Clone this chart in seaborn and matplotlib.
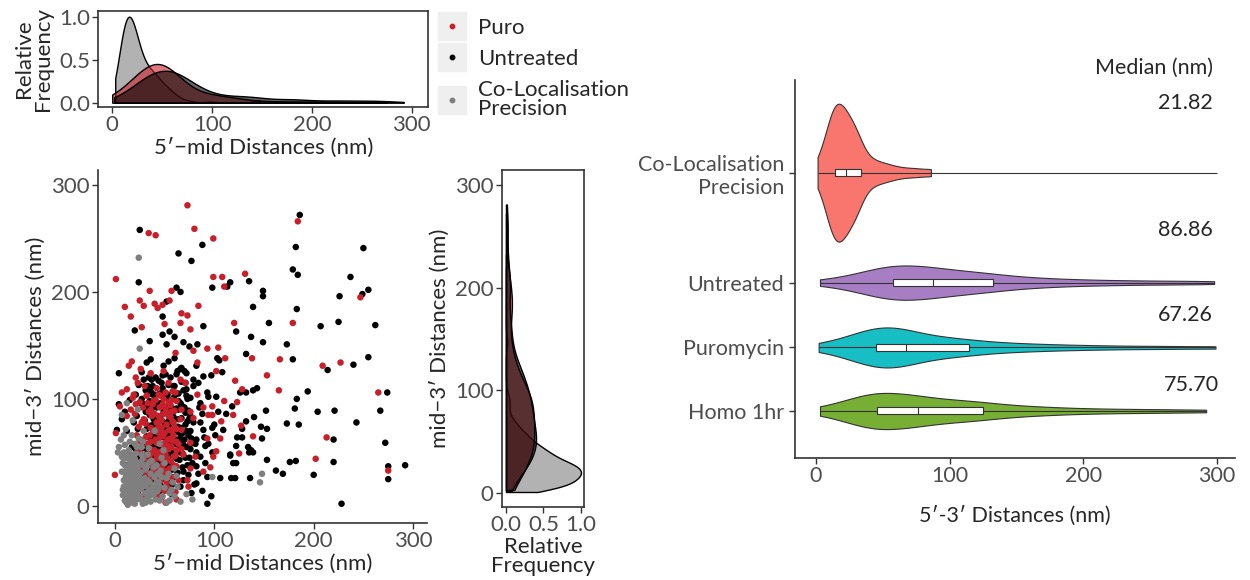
import numpy as np
import pandas as pd
import matplotlib
matplotlib.use("Agg")
import matplotlib.pyplot as plt
from matplotlib.lines import Line2D
from matplotlib.legend_handler import HandlerTuple
import seaborn as sns

# ---- scatter data: (5'-mid, mid-3') distances in nm ----
untreated_pts = [
    (25, 258), (88, 244), (64, 236), (77, 229), (24, 209), (98, 204), (62, 204), (66, 200), (52, 191), (48, 177),
    (89, 168), (20, 164), (55, 163), (48, 160), (35, 154), (60, 158), (52, 151), (69, 153), (83, 151), (75, 149),
    (186, 272), (182, 242), (250, 241), (179, 221), (184, 216), (237, 214), (135, 210), (116, 209), (113, 205),
    (149, 201), (149, 196), (226, 196), (249, 198), (255, 202), (139, 186), (183, 184), (155, 171), (207, 168),
    (225, 172), (262, 169), (122, 163), (137, 158), (149, 153), (173, 151),
    (132, 142), (103, 138), (105, 136), (179, 137), (255, 139), (240, 132), (214, 127), (108, 125), (97, 122),
    (126, 106), (132, 106), (139, 108), (143, 110), (194, 107), (102, 102), (183, 100), (181, 91), (274, 106),
    (267, 89), (221, 89), (204, 88), (152, 89), (104, 88), (112, 86), (118, 93), (100, 76), (140, 83), (132, 79),
    (109, 71), (128, 72), (147, 74), (153, 72), (173, 77), (185, 76), (243, 78), (123, 64), (128, 64), (148, 63),
    (101, 66), (220, 62), (272, 59), (122, 56), (134, 55), (137, 52), (139, 50), (135, 50), (116, 48), (116, 47),
    (119, 40), (122, 40), (153, 43), (176, 41), (182, 42), (220, 41), (292, 38), (275, 37), (275, 25), (162, 33),
    (169, 30), (200, 29), (106, 26), (117, 26), (121, 26), (136, 26), (97, 9), (228, 2),
    (4, 124), (32, 134), (36, 137), (54, 135), (49, 131), (67, 129), (72, 124), (82, 131), (89, 121), (62, 123),
    (44, 117), (29, 118), (24, 113), (79, 118), (84, 115), (59, 112), (72, 109), (36, 107), (49, 106), (93, 106),
    (4, 95), (15, 99), (29, 95), (52, 101), (66, 96), (76, 101), (86, 96), (7, 81), (22, 84), (39, 81), (59, 82),
    (71, 76), (79, 78), (89, 71), (98, 73), (2, 71), (12, 70), (32, 65), (52, 68), (67, 62), (82, 62), (91, 56),
    (66, 50), (76, 53), (86, 46), (98, 50), (41, 43), (54, 37), (69, 32), (82, 37), (93, 27), (66, 18), (82, 21),
    (93, 2), (77, 12), (54, 18), (46, 27), (59, 60), (72, 70), (47, 95), (64, 90), (54, 76), (37, 91), (19, 78),
    (10, 88), (38, 62), (44, 55), (51, 47), (57, 39), (63, 31), (69, 24), (75, 45), (81, 58), (47, 70), (53, 78),
    (59, 88), (66, 67), (72, 55), (78, 40), (84, 30), (90, 64), (42, 92), (48, 110), (56, 120), (64, 105),
    (70, 92), (76, 84), (86, 78), (94, 58), (36, 75), (31, 88), (40, 104), (58, 50), (62, 44), (68, 36), (74, 29),
    (80, 20), (88, 14), (45, 35), (51, 28), (57, 60), (63, 74), (49, 64), (55, 95), (61, 58), (67, 82), (73, 100),
    (79, 112), (85, 92), (91, 40), (39, 50), (33, 112), (27, 100), (41, 120), (60, 138), (66, 128), (46, 84),
    (52, 40), (58, 70), (64, 52), (70, 62), (76, 70), (82, 50), (88, 86), (94, 102),
    (30, 40), (33, 56), (35, 98), (37, 118), (39, 66), (41, 31), (43, 79), (45, 105), (47, 47), (49, 88),
    (51, 123), (53, 59), (55, 33), (57, 77), (59, 101), (61, 69), (63, 126), (65, 43), (67, 94), (69, 57),
    (71, 115), (73, 38), (75, 82), (77, 63), (26, 96), (29, 55), (23, 72), (31, 108), (36, 50), (40, 84),
    (44, 65), (48, 122), (52, 89), (56, 54), (60, 112), (64, 81), (68, 49), (72, 103), (76, 58), (34, 93),
    (28, 44), (32, 72), (38, 104), (42, 57), (46, 96), (50, 74), (54, 113), (58, 46), (62, 91), (66, 73),
    (70, 126), (74, 66), (33, 52), (21, 104), (34, 120), (44, 41), (54, 66), (64, 98), (74, 89), (39, 76),
    (49, 55), (59, 83), (69, 108), (25, 62), (47, 115), (57, 92), (67, 116), (40, 58), (53, 104), (63, 62),
    (73, 79), (30, 80), (41, 95), (51, 66), (61, 37), (71, 87), (27, 125), (45, 57), (55, 81), (65, 56),
    (38, 112), (35, 85), (43, 48), (61, 104), (71, 45), (35, 64), (37, 33), (48, 79), (58, 34), (68, 68),
    (11, 30), (14, 18), (16, 42), (19, 26), (21, 53), (23, 12), (25, 36), (27, 47), (29, 21), (31, 30),
    (33, 15), (35, 44), (37, 24), (39, 55), (41, 36), (43, 20), (45, 49), (47, 13), (49, 31), (51, 42),
    (53, 22), (55, 50), (57, 11), (59, 27), (13, 50), (18, 34), (22, 22), (26, 28), (28, 54), (30, 16),
    (32, 38), (34, 25), (36, 50), (38, 14), (40, 45), (42, 28), (44, 38), (46, 19), (48, 52), (50, 25),
    (52, 34), (54, 15), (56, 40), (58, 20), (24, 46), (20, 10), (15, 25), (60, 48), (12, 38), (17, 55),
]

puro_pts = [
    (73, 281), (34, 255), (41, 253), (80, 259), (99, 250), (1, 212), (99, 214), (35, 201), (57, 201), (25, 192),
    (10, 186), (29, 187), (40, 189), (43, 185), (48, 188), (55, 192), (84, 187), (16, 177), (67, 180), (73, 178),
    (50, 170), (66, 171), (27, 167), (76, 165), (93, 147),
    (184, 266), (108, 214), (131, 217), (110, 205), (247, 195), (120, 171), (179, 171), (104, 148),
    (138, 138), (111, 138), (166, 137), (227, 134), (209, 131), (102, 126), (153, 122), (121, 117), (128, 109),
    (165, 108), (110, 98), (123, 97), (265, 106), (98, 93), (98, 85), (119, 85), (107, 79), (127, 75), (139, 65),
    (106, 63), (213, 64), (102, 51), (99, 46), (125, 49), (96, 36), (202, 44), (275, 33),
    (17, 135), (14, 131), (26, 128), (36, 124), (49, 126), (61, 143), (79, 145), (83, 134), (54, 115), (66, 118),
    (7, 106), (12, 109), (19, 104), (32, 103), (44, 104), (61, 106), (71, 115), (83, 104), (5, 93), (21, 95),
    (36, 90), (49, 93), (62, 98), (76, 88), (89, 92), (12, 84), (29, 81), (44, 84), (54, 84), (66, 81), (79, 82),
    (94, 85), (36, 73), (47, 73), (57, 70), (67, 71), (93, 63), (41, 62), (51, 59), (62, 60), (76, 59), (44, 50),
    (54, 53), (59, 46), (69, 48), (81, 46), (37, 38), (49, 40), (62, 37), (76, 35), (89, 32), (44, 27), (57, 27),
    (73, 24), (47, 16), (61, 13), (74, 18), (51, 3), (62, 6), (0, 29), (1, 68), (52, 87), (59, 78), (42, 78),
    (67, 90), (51, 106), (57, 99), (39, 98), (46, 65), (67, 53), (56, 42), (64, 24), (52, 32),
    (30, 45), (33, 58), (35, 66), (37, 84), (38, 95), (40, 52), (41, 70), (42, 110), (43, 36), (44, 60),
    (45, 92), (46, 44), (47, 80), (48, 57), (49, 100), (50, 68), (51, 48), (52, 76), (53, 62), (54, 97),
    (55, 35), (56, 83), (57, 55), (58, 107), (59, 66), (60, 89), (61, 47), (62, 72), (23, 115), (64, 58),
    (18, 101), (26, 60), (24, 74), (20, 86), (28, 92), (22, 66), (31, 77), (34, 88), (36, 53), (39, 41),
    (41, 99), (43, 69), (45, 79), (47, 51), (49, 86), (51, 91), (53, 43), (55, 71), (57, 88), (59, 38),
    (21, 120), (33, 96), (27, 78), (31, 64), (25, 97), (32, 103), (35, 47), (38, 71), (42, 59), (46, 103),
    (50, 33), (54, 56), (58, 79), (62, 52), (30, 112), (44, 74), (48, 95), (52, 53), (56, 63), (60, 74),
    (40, 86), (36, 60), (46, 70), (50, 58), (54, 86), (58, 61), (42, 47), (48, 65), (56, 94), (16, 90),
    (12, 22), (15, 35), (18, 14), (20, 44), (22, 28), (24, 10), (26, 38), (28, 20), (30, 48), (32, 31),
    (34, 12), (36, 26), (38, 42), (40, 17), (42, 33), (44, 9), (46, 24), (48, 38), (50, 14), (52, 22),
    (14, 46), (17, 30), (21, 18), (25, 50), (27, 33), (29, 9), (33, 40), (35, 19), (37, 50), (39, 29),
    (41, 11), (43, 45), (45, 30), (47, 8), (49, 28), (53, 17), (16, 12), (23, 41), (31, 24), (38, 33),
]

coloc_pts = [
    (10, 5), (11, 13), (12, 19), (11, 27), (12, 35), (13, 8), (8, 15), (9, 24), (10, 31), (8, 40), (11, 4),
    (12, 11), (13, 18), (12, 26), (14, 33), (13, 45), (15, 7), (16, 14), (15, 21), (17, 28), (16, 37), (18, 3),
    (18, 10), (19, 17), (20, 24), (19, 30), (21, 41), (22, 6), (22, 13), (23, 20), (24, 27), (23, 35), (25, 9),
    (26, 16), (27, 23), (26, 31), (28, 44), (29, 5), (30, 12), (31, 19), (30, 26), (32, 38), (33, 8), (34, 15),
    (35, 22), (36, 30), (38, 11), (39, 18), (40, 27), (41, 6), (43, 14), (44, 22), (46, 33), (48, 9), (50, 17),
    (52, 26), (14, 52), (20, 58), (9, 50), (27, 55), (33, 48), (6, 62), (17, 66), (9, 44), (9, 18), (8, 10),
    (11, 72), (24, 63), (37, 42), (42, 38), (45, 5), (55, 12), (58, 22), (36, 4), (20, 2), (13, 1), (28, 2),
    (16, 44), (21, 49), (10, 57), (18, 80), (12, 96), (23, 90), (29, 70), (4, 55),
    (17, 19), (19, 22), (21, 25), (18, 27), (15, 24), (22, 18), (20, 20), (16, 29), (24, 22), (23, 15), (14, 16),
    (12, 21), (25, 26), (19, 12), (21, 32), (14, 9), (16, 23), (18, 34), (13, 28), (17, 6), (19, 38), (15, 41),
    (20, 15), (18, 21), (16, 18), (14, 26), (21, 11), (17, 32), (19, 8), (22, 29), (13, 36), (20, 44), (15, 12),
    (18, 48), (23, 39),
    (3, 50), (7, 46), (10, 38), (27, 48), (31, 34), (35, 41), (39, 36), (43, 30), (37, 16), (33, 24),
    (29, 38), (26, 6), (31, 3), (40, 12), (45, 18), (9, 66), (15, 60), (22, 55), (28, 60), (34, 54),
    (10, 24), (7, 32), (11, 17), (25, 40), (28, 18), (36, 10), (42, 22), (47, 27), (12, 48), (12, 3),
    (55, 5), (60, 9), (66, 4), (72, 11), (78, 6), (50, 40), (54, 30), (47, 45), (57, 15), (52, 3), (62, 28),
    (49, 52), (24, 232), (25, 147), (148, 30), (146, 22), (98, 27), (60, 35), (63, 18), (40, 70), (7, 85), (45, 58),
]

# ---- violin data: 5'-3' distances (nm) ----
coloc_53 = [1.2, 3.5, 5.4, 6.8, 8.1, 9.0, 9.9, 10.6, 11.3, 11.9, 12.4, 12.8, 13.1, 13.4, 13.7,
            14.2, 14.8, 15.3, 15.9, 16.4, 17.0, 17.5, 18.0, 18.6, 19.1, 19.7, 20.3, 20.8, 21.4, 21.8,
            22.3, 23.0, 23.7, 24.4, 25.1, 25.9, 26.6, 27.4, 28.2, 29.0, 29.8, 30.5, 31.2, 31.8, 32.4,
            34.0, 36.1, 38.5, 41.2, 44.0, 47.3, 51.0, 55.2, 60.5, 67.8, 76.0, 86.0]
coloc_53_outliers = [112.0, 140.0, 218.0, 300.0]
untreated_53 = [3, 14, 24, 31, 37, 41, 44, 47, 49, 51, 53, 55,
                57, 59, 61, 63, 66, 68, 71, 74, 77, 79, 82, 84, 87,
                88, 91, 95, 99, 102, 106, 110, 114, 118, 122, 126, 129,
                134, 140, 147, 155, 163, 172, 183, 196, 211, 228, 249, 272, 298]
puro_53 = [2, 9, 16, 22, 27, 31, 34, 37, 39, 40, 42, 43,
           45, 46, 48, 50, 52, 54, 56, 58, 60, 62, 64, 66, 67,
           68, 71, 74, 78, 82, 86, 90, 94, 98, 102, 106, 111,
           116, 122, 129, 137, 146, 156, 167, 180, 196, 214, 238, 265, 299]
homo_53 = [3, 11, 18, 24, 29, 33, 36, 38, 40, 41, 42, 43,
           45, 47, 49, 52, 55, 58, 61, 64, 67, 69, 71, 73, 75,
           77, 81, 85, 89, 93, 97, 101, 105, 109, 113, 117, 121,
           126, 131, 138, 145, 153, 162, 172, 184, 199, 217, 238, 262, 292]

violin_names = ["Co-Localisation\nPrecision", "Untreated", "Puromycin", "Homo 1hr"]
medians = [21.82, 86.86, 67.26, 75.70]

# %%
sns.set_style("white")
plt.rcParams["font.family"] = ["Lato", "DejaVu Sans"]

RED, BLACK, GREY = "#C8202A", "#000000", "#7F7F7F"
groups = ["Untreated", "Puro", "Co-Localisation Precision"]
pal = {"Untreated": BLACK, "Puro": RED, "Co-Localisation Precision": GREY}

frames = []
for g, pts in zip(groups, [untreated_pts, puro_pts, coloc_pts]):
    a = np.array(pts, dtype=float)
    frames.append(pd.DataFrame({"x": a[:, 0], "y": a[:, 1], "group": g}))
df = pd.concat(frames, ignore_index=True)

fig = plt.figure(figsize=(12.5, 5.8), dpi=100)
ax_top = fig.add_axes([0.0786, 0.816, 0.264, 0.165])
ax_sc = fig.add_axes([0.0784, 0.0983, 0.2632, 0.6086])
ax_rt = fig.add_axes([0.4016, 0.1259, 0.0656, 0.581])
ax_vn = fig.add_axes([0.636, 0.2103, 0.352, 0.652])

EDGE = "#333333"
TICK = "#4D4D4D"
FS = 16
FSV = 15.5


def style_axes(ax, box=True, fs=FS):
    for s in ["top", "right"]:
        ax.spines[s].set_visible(box)
    for s in ax.spines.values():
        s.set_color(EDGE)
        s.set_linewidth(1.2)
    ax.tick_params(bottom=True, left=True, direction="out", length=4, width=1,
                   color=EDGE, labelcolor=TICK, labelsize=fs, pad=2)


# ---- scatter ----
sns.scatterplot(data=df, x="x", y="y", hue="group", palette=pal, s=22,
                linewidth=0, legend=False, ax=ax_sc)
ax_sc.set_xlim(-17, 314)
ax_sc.set_ylim(-16, 314)
ax_sc.set_xticks([0, 100, 200, 300])
ax_sc.set_yticks([0, 100, 200, 300])
ax_sc.set_xlabel("5\u2032\u2212mid Distances (nm)", fontsize=FS, labelpad=2)
ax_sc.set_ylabel("mid\u22123\u2032 Distances (nm)", fontsize=FS)
style_axes(ax_sc, box=False)

# ---- marginal densities ----
draw_order = ["Co-Localisation Precision", "Puro", "Untreated"]
bw_x = {"Co-Localisation Precision": 0.8, "Puro": 1.2, "Untreated": 0.9}
bw_y = {"Co-Localisation Precision": 0.6, "Puro": 0.9, "Untreated": 0.9}
for g in draw_order:
    sub = df[df.group == g]
    sns.kdeplot(x=sub.x, ax=ax_top, fill=True, color=pal[g], alpha=0.6,
                edgecolor="black", linewidth=1, cut=0, bw_adjust=bw_x[g])
    sns.kdeplot(y=sub.y, ax=ax_rt, fill=True, color=pal[g], alpha=0.6,
                edgecolor="black", linewidth=1, cut=0, bw_adjust=bw_y[g])

m_top = ax_top.collections[0].get_paths()[0].vertices[:, 1].max()
ax_top.set_yticks([0, m_top / 2, m_top], ["0.0", "0.5", "1.0"])
ax_top.set_ylim(-0.047 * m_top, 1.066 * m_top)
ax_top.set_xlim(-14, 316.5)
ax_top.set_xticks([0, 100, 200, 300])
ax_top.set_xlabel("5\u2032\u2212mid Distances (nm)", fontsize=FS, labelpad=2)
ax_top.set_ylabel("Relative\nFrequency", fontsize=FS, linespacing=0.95)
style_axes(ax_top)

m_rt = ax_rt.collections[0].get_paths()[0].vertices[:, 0].max()
ax_rt.set_xticks([0, m_rt / 2, m_rt], ["0.0", "0.5", "1.0"])
ax_rt.set_xlim(-0.053 * m_rt, 1.04 * m_rt)
ax_rt.set_ylim(-13.6, 314.6)
ax_rt.set_yticks([0, 100, 200, 300])
ax_rt.set_xlabel("Relative\nFrequency", fontsize=FS, labelpad=1, linespacing=0.95)
ax_rt.set_ylabel("mid\u22123\u2032 Distances (nm)", fontsize=FS)
style_axes(ax_rt)

# legend with grey key backgrounds
handles = []
for g in ["Puro", "Untreated", "Co-Localisation Precision"]:
    bg = Line2D([], [], marker="s", markersize=20, color="#EFEFEF", linestyle="none")
    dot = Line2D([], [], marker="o", markersize=3.2, color=pal[g], linestyle="none")
    handles.append((bg, dot))
leg = fig.legend(handles, ["Puro", "Untreated", "Co-Localisation\nPrecision"],
                 handler_map={tuple: HandlerTuple(ndivide=1, pad=0)},
                 loc="upper left", bbox_to_anchor=(436 / 1250, 1 - 18 / 580),
                 frameon=False, fontsize=FS, handlelength=1.4, handletextpad=0.5,
                 labelspacing=0.5, borderaxespad=0, borderpad=0)
for t in leg.get_texts():
    t.set_linespacing(0.92)

# ---- violins ----
v_data = [coloc_53, untreated_53, puro_53, homo_53]
v_pos = [3.75, 2.02, 1.0, 0.0]
v_col = ["#F8766D", "#A77DC4", "#17BEC4", "#77AE34"]
v_w = [2.17, 0.54, 0.63, 0.57]
v_bw = [0.3, 0.29, 0.26, 0.27]
for vals, pos, c, w, bw in zip(v_data, v_pos, v_col, v_w, v_bw):
    sns.violinplot(x=vals, y=np.full(len(vals), pos), orient="y", native_scale=True,
                   color=c, saturation=1, width=w, cut=0, inner=None, bw_method=bw,
                   linewidth=0.8, linecolor=EDGE, ax=ax_vn)

box_data = [coloc_53 + coloc_53_outliers, untreated_53, puro_53, homo_53]
long = pd.concat([pd.DataFrame({"d": v, "pos": p}) for v, p in zip(box_data, v_pos)])
sns.boxplot(data=long, x="d", y="pos", orient="y", native_scale=True, width=0.11,
            whis=(0, 100), showfliers=False, showcaps=False, color="white",
            saturation=1, linecolor=EDGE, linewidth=0.8, ax=ax_vn)

ax_vn.set_xlim(-15.7, 313.6)
ax_vn.set_ylim(-0.74, 5.21)
ax_vn.set_xticks([0, 100, 200, 300])
ax_vn.set_yticks(v_pos, violin_names)
ax_vn.set_xlabel("5\u2032-3\u2032 Distances (nm)", fontsize=FSV, labelpad=14)
ax_vn.set_ylabel("")
style_axes(ax_vn, box=False, fs=FSV)
ax_vn.tick_params(axis="y", pad=4)

ax_vn.text(297, 5.40, "Median (nm)", ha="right", va="center", fontsize=FSV, clip_on=False)
for med, ty, tx in zip(medians, [4.85, 2.84, 1.51, 0.41], [297, 297, 297, 301.5]):
    ax_vn.text(tx, ty, f"{med:.2f}", ha="right", va="center", fontsize=FSV, clip_on=False)

fig.savefig("out.png", dpi=100)
